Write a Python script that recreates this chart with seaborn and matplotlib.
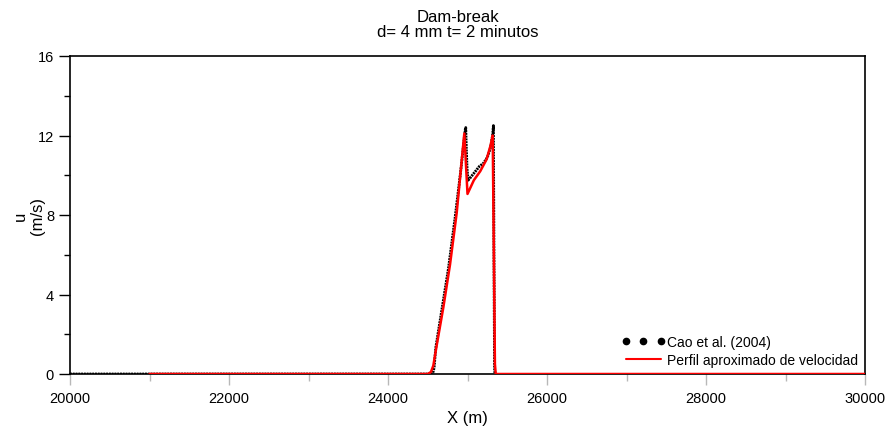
import matplotlib
matplotlib.use("Agg")
import numpy as np
import pandas as pd
import seaborn as sns
import matplotlib.pyplot as plt
from matplotlib.lines import Line2D
from matplotlib.ticker import MultipleLocator

# --- data ---
x_cao = [20000, 24560, 24580, 24600, 24680, 24760, 24845, 24920, 24960, 24972, 24978,
         24985, 24995, 25008, 25030, 25080, 25150, 25200, 25250, 25290, 25315, 25326,
         25333, 25340, 25348, 25400, 25450, 25490]
u_cao = [0.0, 0.0, 0.3, 1.3, 3.3, 5.3, 7.9, 10.4, 11.9, 12.3, 12.4,
         11.4, 10.3, 9.75, 9.85, 10.1, 10.45, 10.6, 10.9, 11.4, 12.0, 12.5,
         6.0, 0.3, -0.2, -0.22, -0.27, -0.3]

x_perfil = [21000, 24500, 24540, 24570, 24612, 24696, 24780, 24864, 24960, 25000,
            25080, 25160, 25240, 25290, 25317, 25345, 25355, 30000]
u_perfil = [0.0, 0.0, 0.1, 0.42, 1.43, 3.35, 5.5, 8.1, 12.1, 9.06,
            9.75, 10.2, 10.8, 11.5, 12.0, 0.5, 0.0, 0.0]

x_ticks = [20000, 22000, 24000, 26000, 28000, 30000]
y_ticks = [0, 4, 8, 12, 16]
labels = ["Cao et al. (2004)", "Perfil aproximado de velocidad"]
title = "Dam-break\nd= 4 mm t= 2 minutos"

sns.set_style("ticks")
plt.rcParams['font.family'] = ['Liberation Sans', 'DejaVu Sans']
plt.rcParams['text.color'] = 'black'
plt.rcParams['axes.labelcolor'] = 'black'
plt.rcParams['xtick.labelcolor'] = 'black'
plt.rcParams['ytick.labelcolor'] = 'black'

fig = plt.figure(figsize=(8.86, 4.35), dpi=100)
ax = fig.add_axes([70/886, 60/435, 795/886, 318/435])

df_cao = pd.DataFrame({"x": x_cao, "u": u_cao})
df_per = pd.DataFrame({"x": x_perfil, "u": u_perfil})

sns.lineplot(data=df_cao, x="x", y="u", sort=False, estimator=None, color="black",
             lw=2.0, linestyle=(0, (0.7, 0.3)), ax=ax, zorder=2)
sns.lineplot(data=df_per, x="x", y="u", sort=False, estimator=None, color="#ff0000",
             lw=1.8, ax=ax, zorder=3)

ax.set_xlim(20000, 30000)
ax.set_ylim(0, 16)
ax.set_xticks(x_ticks)
ax.set_yticks(y_ticks)
ax.xaxis.set_minor_locator(MultipleLocator(1000))
ax.yaxis.set_minor_locator(MultipleLocator(2))
ax.set_xticklabels([str(t) for t in x_ticks])
ax.set_yticklabels([str(t) for t in y_ticks])

ax.tick_params(axis='y', which='major', length=8, width=1, color='black', direction='out',
               pad=3.5, labelsize=10.5)
ax.tick_params(axis='y', which='minor', length=4, width=1, color='black', direction='out')
ax.tick_params(axis='x', which='major', length=8, width=1, color='#b8b8b8', direction='out',
               pad=4, labelsize=10.5)
ax.tick_params(axis='x', which='minor', length=5, width=1, color='#b8b8b8', direction='out')

for s in ax.spines.values():
    s.set_visible(True)
    s.set_color('black')
    s.set_linewidth(1.2)

ax.set_xlabel("X (m)", fontsize=12, labelpad=4)
ax.set_ylabel("u\n(m/s)", fontsize=12, labelpad=-5, linespacing=1.15)

handles = [Line2D([], [], marker='o', ls='none', color='black', markersize=4.5),
           Line2D([], [], color='#ff0000', lw=1.5)]
ax.legend(handles, labels, loc='lower right', frameon=False, numpoints=3,
          handlelength=3.1, handletextpad=0.15, labelspacing=0.3,
          borderaxespad=0.1, fontsize=10)

fig.text(458/886, 1 - 10/435, title, ha='center', va='top', fontsize=12, linespacing=1.0)

fig.savefig("out.png", dpi=100)
